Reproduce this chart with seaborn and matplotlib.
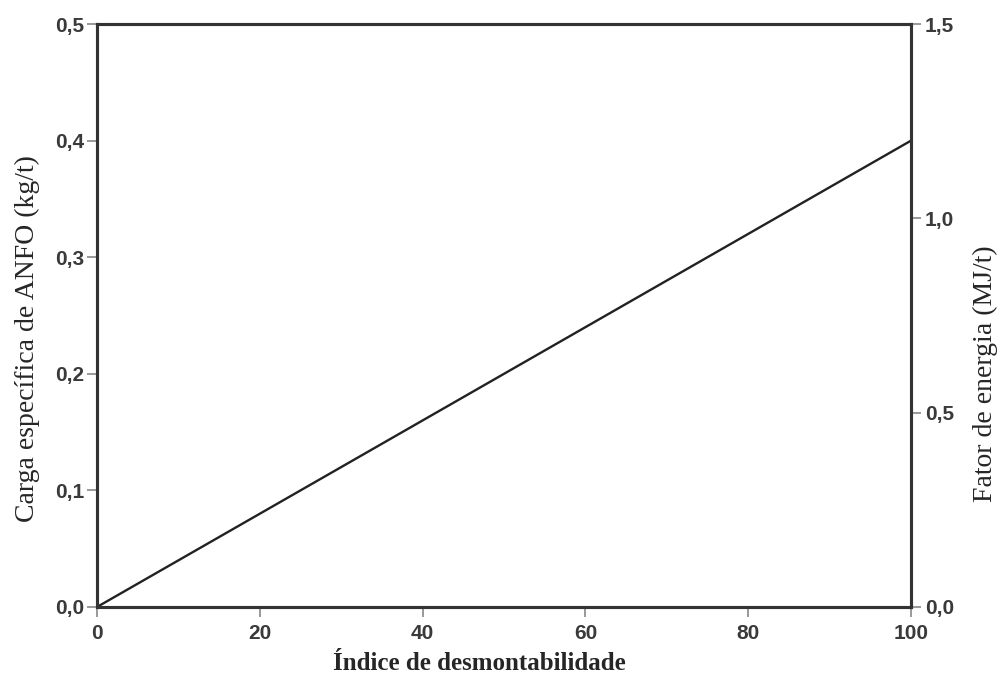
import matplotlib
matplotlib.use("Agg")
import matplotlib.pyplot as plt
import seaborn as sns
import pandas as pd

# values
indice = [0, 100]
carga_anfo = [0.0, 0.40]
x_ticks = [0, 20, 40, 60, 80, 100]
y_left_ticks = [0.0, 0.1, 0.2, 0.3, 0.4, 0.5]
y_right_ticks = [0.0, 0.5, 1.0, 1.5]

sns.set_style("ticks")
plt.rcParams["font.family"] = ["Liberation Sans", "DejaVu Sans"]

edge = "#333333"
df = pd.DataFrame({"indice": indice, "carga": carga_anfo})

fig = plt.figure(figsize=(10.02, 6.77), dpi=100)
ax = fig.add_axes([0.0968, 0.1034, 0.8124, 0.8611])
sns.lineplot(data=df, x="indice", y="carga", ax=ax, color="#222222", linewidth=1.7)

ax.set_xlim(0, 100)
ax.set_ylim(0, 0.5)
ax.set_xticks(x_ticks)
ax.set_yticks(y_left_ticks)
ax.set_xticklabels([str(v) for v in x_ticks])
ax.set_yticklabels([f"{v:.1f}".replace(".", ",") for v in y_left_ticks])

ax2 = ax.twinx()
ax2.set_ylim(0, 1.5)
ax2.set_yticks(y_right_ticks)
ax2.set_yticklabels([f"{v:.1f}".replace(".", ",") for v in y_right_ticks])

for a in (ax, ax2):
    for s in a.spines.values():
        s.set_visible(True)
        s.set_color(edge)
        s.set_linewidth(2.2)
    a.tick_params(axis="both", direction="out", length=7, width=1.2, color="#888888",
                  labelcolor="#3a3a3a", labelsize=15, pad=2)
    for lab in a.get_xticklabels() + a.get_yticklabels():
        lab.set_fontweight("bold")
ax.tick_params(axis="x", pad=5)
ax2.tick_params(axis="y", pad=3)

serif = ["Liberation Serif", "DejaVu Serif"]
ax.set_xlabel("Índice de desmontabilidade", family=serif, size=18, weight="bold")
ax.set_ylabel("Carga específica de ANFO (kg/t)", family=serif, size=20)
ax2.set_ylabel("Fator de energia (MJ/t)", family=serif, size=20)
ax.xaxis.set_label_coords(0.47, -0.077)
ax.yaxis.set_label_coords(-0.07, 0.461)
ax2.yaxis.set_label_coords(1.076, 0.40)

fig.savefig("out.png", dpi=100)
